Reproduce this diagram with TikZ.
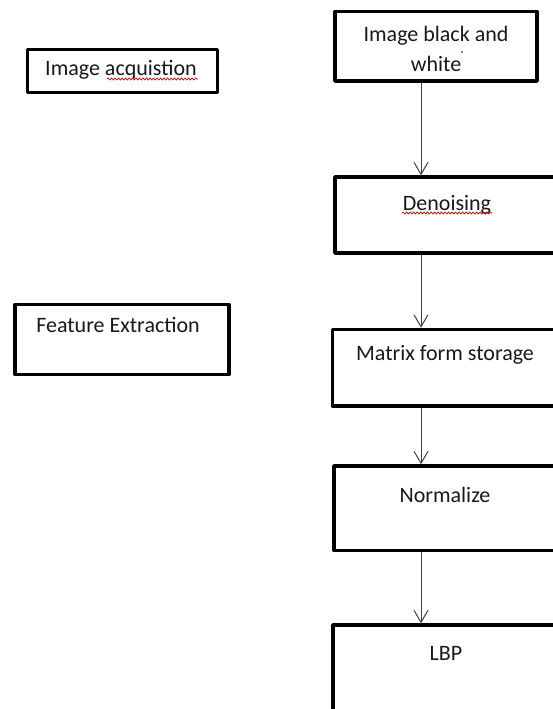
\documentclass[tikz,border=0pt]{standalone}
\usepackage{fontspec}
\setmainfont{Carlito}
\usetikzlibrary{arrows.meta,decorations.pathmorphing}
\begin{document}
\begin{tikzpicture}[x=1pt,y=-1pt,
  stage/.style={draw=black,line width=3.5pt,line join=round,rectangle,inner sep=0pt,fill=white},
  caption/.style={font=\fontsize{22}{30}\selectfont,text=black!90,inner sep=0pt,align=center},
  flow/.style={draw=black!75,line width=1pt,-{Straight Barb[length=12pt,width=14pt,line width=1pt]}},
  spell/.style={draw=red!85!black,line width=0.7pt,decorate,decoration={snake,amplitude=1pt,segment length=3.5pt}}]
\clip (0,0) rectangle (553,709);
\fill[white] (0,0) rectangle (553,709);
\coordinate (spine) at (421,0);

% left-hand labels
\node[stage,minimum width=190pt,minimum height=43pt] (acq) at (122.5,71) {};
\node[stage,minimum width=214pt,minimum height=70pt] (feat) at (122,339.5) {};

% right-hand processing chain
\node[stage,minimum width=202pt,minimum height=69.5pt] (bw) at (436,46.25) {};
\node[stage,minimum width=224pt,minimum height=76pt] (den) at (447,215) {};
\node[stage,minimum width=226.5pt,minimum height=76.5pt] (mat) at (445.75,367.75) {};
\node[stage,minimum width=225pt,minimum height=84.5pt] (norm) at (446.5,508.25) {};
\node[stage,minimum width=226pt,minimum height=110pt] (lbp) at (446,680) {};

% captions
\node[caption,anchor=base] (tacq) at (121,75) {Image acquistion};
\node[caption,anchor=base] (tfeat) at (118,332) {Feature Extraction};
\node[caption] (tbw) at (436,49) {Image black and\\white};
\node[caption,anchor=base] (tden) at (447,210) {Denoising};
\node[caption,anchor=base] (tmat) at (445,360) {Matrix form storage};
\node[caption,anchor=base] (tnorm) at (445,502) {Normalize};
\node[caption,anchor=base] (tlbp) at (446,660) {LBP};

% spell-check marks
\draw[spell] (107,79) -- (198,79);
\draw[spell] (402,213) -- (492,213);
\fill[blue] (462,52) circle (0.9pt);

% arrows
\draw[flow] (bw.south -| spine) -- (den.north -| spine);
\draw[flow] (den.south -| spine) -- (mat.north -| spine);
\draw[flow] (mat.south -| spine) -- (norm.north -| spine);
\draw[flow] (norm.south -| spine) -- (lbp.north -| spine);
\end{tikzpicture}
\end{document}
